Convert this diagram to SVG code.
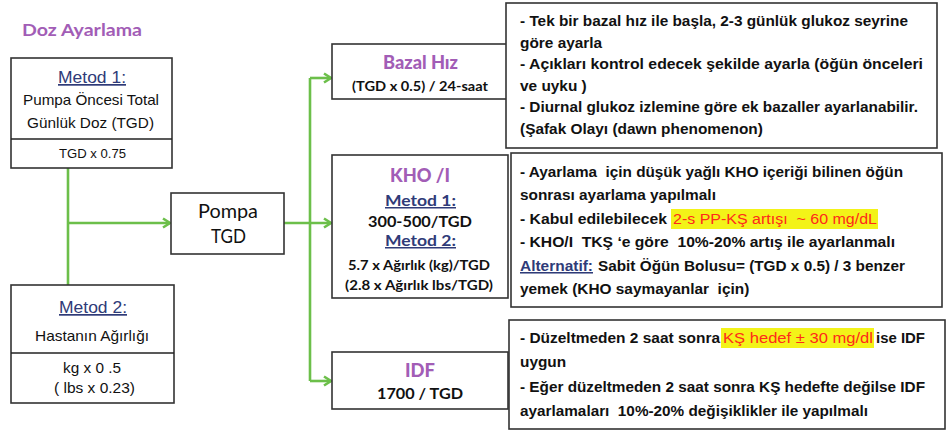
<svg xmlns="http://www.w3.org/2000/svg" width="947" height="432" viewBox="0 0 947 432">
  <style>
    .box { fill: #ffffff; stroke: #333333; stroke-width: 1.6; }
    .div { stroke: #222222; stroke-width: 1.6; }
    .link { fill: none; stroke: #6cbf4a; stroke-width: 2.6; }
    .sans { font-family: "Liberation Sans", Arial, sans-serif; fill: #111111; }
    .cal { font-family: "Lato", "Open Sans", sans-serif; fill: #111111; }
    .note { font-family: "Liberation Sans", Arial, sans-serif; font-weight: bold; font-size: 15.4px; fill: #111111; white-space: pre; }
    .purple { fill: #a25db6; }
    .navy { fill: #2f3b78; text-decoration: underline; }
    .red { fill: #ff2a1a; font-weight: normal; }
    .hl { fill: #f3f318; }
  </style>
  <defs>
    <marker id="arrow" markerWidth="10" markerHeight="12" refX="8.5" refY="6" orient="auto" markerUnits="userSpaceOnUse">
      <path d="M1.5,1.5 L8.5,6 L1.5,10.5" fill="none" stroke="#6cbf4a" stroke-width="2.6"/>
    </marker>
  </defs>

  <text x="22" y="36" class="cal purple" font-weight="bold" font-size="17" textLength="120" lengthAdjust="spacingAndGlyphs">Doz Ayarlama</text>

  <!-- connectors -->
  <g id="connectors">
    <path class="link" d="M68,168 V285"/>
    <path class="link" d="M68,223 H170" marker-end="url(#arrow)"/>
    <path class="link" d="M284,223 H331" marker-end="url(#arrow)"/>
    <path class="link" d="M310,78 V381"/>
    <path class="link" d="M310,78 H331" marker-end="url(#arrow)"/>
    <path class="link" d="M310,381 H331" marker-end="url(#arrow)"/>
  </g>

  <!-- method 1: total daily dose before pump -->
  <g id="metod1">
    <rect class="box" x="11" y="58" width="161" height="110"/>
    <line class="div" x1="11" y1="139" x2="172" y2="139"/>
    <text class="sans navy" x="58" y="83" font-size="17" textLength="68" lengthAdjust="spacingAndGlyphs">Metod 1:</text>
    <text class="sans" x="23" y="105" font-size="15" textLength="136" lengthAdjust="spacingAndGlyphs">Pumpa Öncesi Total</text>
    <text class="sans" x="27" y="128" font-size="15" textLength="127" lengthAdjust="spacingAndGlyphs">Günlük Doz (TGD)</text>
    <text class="sans" x="59" y="158" font-size="12.5" textLength="67" lengthAdjust="spacingAndGlyphs">TGD x 0.75</text>
  </g>

  <!-- method 2: patient weight -->
  <g id="metod2">
    <rect class="box" x="11" y="285" width="163" height="118"/>
    <line class="div" x1="11" y1="353" x2="174" y2="353"/>
    <text class="sans navy" x="59" y="313" font-size="17" textLength="68" lengthAdjust="spacingAndGlyphs">Metod 2:</text>
    <text class="sans" x="35" y="341" font-size="14.5" textLength="114" lengthAdjust="spacingAndGlyphs">Hastanın Ağırlığı</text>
    <text class="sans" x="63" y="373" font-size="15" textLength="58" lengthAdjust="spacingAndGlyphs">kg x 0 .5</text>
    <text class="sans" x="54" y="393" font-size="15" textLength="81" lengthAdjust="spacingAndGlyphs">( lbs x 0.23)</text>
  </g>

  <!-- pump total daily dose -->
  <g id="pompa">
    <rect class="box" x="171" y="193" width="113" height="61"/>
    <text class="cal" x="198" y="218" font-size="19" textLength="60" lengthAdjust="spacingAndGlyphs">Pompa</text>
    <text class="cal" x="211" y="243" font-size="19" textLength="35" lengthAdjust="spacingAndGlyphs">TGD</text>
  </g>

  <!-- basal rate -->
  <g id="bazal">
    <rect class="box" x="332" y="44" width="176" height="55"/>
    <text class="cal purple" x="383" y="69" font-size="18" font-weight="900" textLength="75" lengthAdjust="spacingAndGlyphs">Bazal Hız</text>
    <text class="cal" x="352" y="91" font-size="13" font-weight="bold" textLength="136" lengthAdjust="spacingAndGlyphs">(TGD x 0.5) / 24-saat</text>
  </g>

  <g id="bazal-not">
    <rect class="box" x="506" y="3" width="431" height="145"/>
    <text class="note" x="520" y="26" textLength="388" lengthAdjust="spacingAndGlyphs">- Tek bir bazal hız ile başla, 2-3 günlük glukoz seyrine</text>
    <text class="note" x="520" y="48">göre ayarla</text>
    <text class="note" x="520" y="69" textLength="403" lengthAdjust="spacingAndGlyphs">- Açıkları kontrol edecek şekilde ayarla (öğün önceleri</text>
    <text class="note" x="520" y="91">ve uyku )</text>
    <text class="note" x="520" y="112" textLength="398" lengthAdjust="spacingAndGlyphs">- Diurnal glukoz izlemine göre ek bazaller ayarlanabilir.</text>
    <text class="note" x="520" y="134">(Şafak Olayı (dawn phenomenon)</text>
  </g>

  <!-- carbohydrate / insulin ratio -->
  <g id="kho">
    <rect class="box" x="332" y="155" width="176" height="143"/>
    <text class="cal purple" x="390" y="182" font-size="19" font-weight="900" textLength="60" lengthAdjust="spacingAndGlyphs">KHO /I</text>
    <text class="cal navy" x="385" y="206" font-size="15" font-weight="bold" textLength="71" lengthAdjust="spacingAndGlyphs">Metod 1:</text>
    <text class="cal" x="368" y="227" font-size="15" font-weight="bold" textLength="104" lengthAdjust="spacingAndGlyphs">300-500/TGD</text>
    <text class="cal navy" x="385" y="246" font-size="15" font-weight="bold" textLength="71" lengthAdjust="spacingAndGlyphs">Metod 2:</text>
    <text class="cal" x="348" y="270" font-size="13" font-weight="bold" textLength="142" lengthAdjust="spacingAndGlyphs">5.7 x Ağırlık (kg)/TGD</text>
    <text class="cal" x="345" y="290" font-size="13" font-weight="bold" textLength="148" lengthAdjust="spacingAndGlyphs">(2.8 x Ağırlık lbs/TGD)</text>
  </g>

  <g id="kho-not">
    <rect class="box" x="511" y="153" width="431" height="154"/>
    <text class="note" x="520" y="177" xml:space="preserve" textLength="383" lengthAdjust="spacingAndGlyphs">- Ayarlama  için düşük yağlı KHO içeriği bilinen öğün</text>
    <text class="note" x="520" y="200">sonrası ayarlama yapılmalı</text>
    <text class="note" x="520" y="224" textLength="147" lengthAdjust="spacingAndGlyphs">- Kabul edilebilecek</text>
    <rect class="hl" x="671" y="209" width="207" height="20"/>
    <text class="note red" x="673" y="224" xml:space="preserve" textLength="204" lengthAdjust="spacingAndGlyphs">2-s PP-KŞ artışı  ~ 60 mg/dL</text>
    <text class="note" x="520" y="247" xml:space="preserve" textLength="375" lengthAdjust="spacingAndGlyphs">- KHO/I  TKŞ ‘e göre  10%-20% artış ile ayarlanmalı</text>
    <text class="note navy" x="520" y="271" textLength="73" lengthAdjust="spacingAndGlyphs">Alternatif:</text>
    <text class="note" x="598" y="271" textLength="307" lengthAdjust="spacingAndGlyphs">Sabit Öğün Bolusu= (TGD x 0.5) / 3 benzer</text>
    <text class="note" x="520" y="294" xml:space="preserve">yemek (KHO saymayanlar  için)</text>
  </g>

  <!-- insulin sensitivity factor -->
  <g id="idf">
    <rect class="box" x="332" y="352" width="176" height="57"/>
    <text class="cal purple" x="405" y="377" font-size="19" font-weight="900" textLength="30" lengthAdjust="spacingAndGlyphs">IDF</text>
    <text class="cal" x="377" y="399" font-size="15" font-weight="bold" textLength="86" lengthAdjust="spacingAndGlyphs">1700 / TGD</text>
  </g>

  <g id="idf-not">
    <rect class="box" x="509" y="320" width="436" height="109"/>
    <text class="note" x="520" y="343" textLength="200" lengthAdjust="spacingAndGlyphs">- Düzeltmeden 2 saat sonra</text>
    <rect class="hl" x="721" y="328" width="153" height="20"/>
    <text class="note red" x="723" y="343" textLength="150" lengthAdjust="spacingAndGlyphs">KŞ hedef ± 30 mg/dl</text>
    <text class="note" x="876" y="343" textLength="49" lengthAdjust="spacingAndGlyphs">ise IDF</text>
    <text class="note" x="520" y="367">uygun</text>
    <text class="note" x="520" y="392" textLength="405" lengthAdjust="spacingAndGlyphs">- Eğer düzeltmeden 2 saat sonra KŞ hedefte değilse IDF</text>
    <text class="note" x="520" y="416" xml:space="preserve" textLength="348" lengthAdjust="spacingAndGlyphs">ayarlamaları  10%-20% değişiklikler ile yapılmalı</text>
  </g>
</svg>
